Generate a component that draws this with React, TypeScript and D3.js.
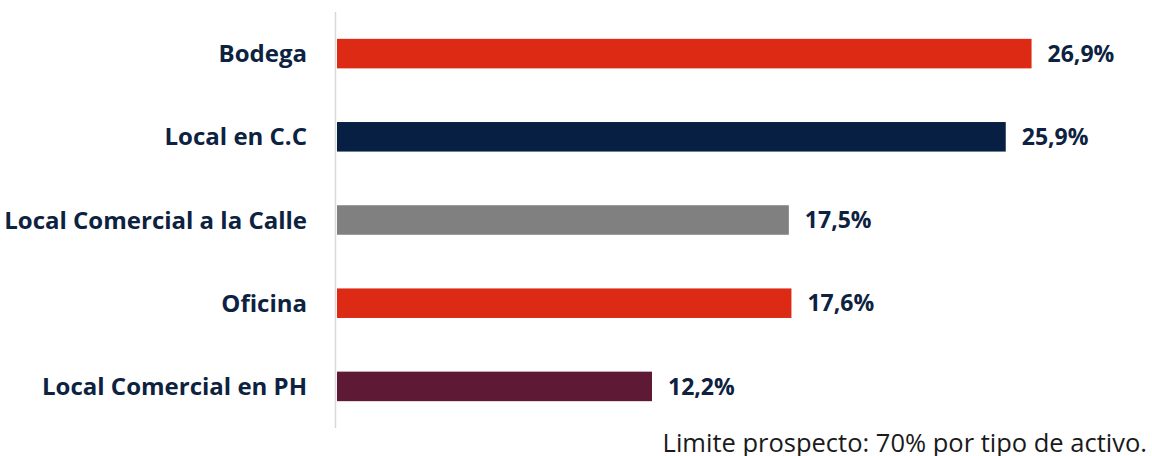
import React from "react";
import * as d3 from "d3";

const categories = ["Bodega", "Local en C.C", "Local Comercial a la Calle", "Oficina", "Local Comercial en PH"];
const values = [26.9, 25.9, 17.5, 17.6, 12.2];
const valueLabels = ["26,9%", "25,9%", "17,5%", "17,6%", "12,2%"];
const barColors = ["#DC2A14", "#061F42", "#808080", "#DC2A14", "#5E1A35"];
const footnote = "Limite prospecto: 70% por tipo de activo.";

const W = 1152;
const H = 456;
const FONT = "'Open Sans', sans-serif";
const TEXT = "#0D2240";

export default function App() {
  const x = d3.scaleLinear().domain([0, 30]).range([337, 337 + 30 * 25.82]);
  const y = d3.scaleBand<string>().domain(categories).range([12, 428]).paddingInner(0.645).paddingOuter(0.3225);
  const bw = y.bandwidth();
  return (
    <svg width={W} height={H} style={{ position: "absolute", left: 0, top: 0, background: "#fff" }}>
      <line x1={335.5} x2={335.5} y1={12} y2={428} stroke="#D9D9D9" strokeWidth={1.5} />
      {categories.map((c, i) => {
        const yc = (y(c) as number) + bw / 2;
        return (
          <g key={c}>
            <rect x={x(0)} y={y(c)} width={x(values[i]) - x(0)} height={bw} fill={barColors[i]} />
            <text x={307} y={yc} dy="0.36em" textAnchor="end" fontFamily={FONT} fontWeight={700} fontSize={24} fill={TEXT}>
              {c}
            </text>
            <text x={x(values[i]) + 16} y={yc} dy="0.36em" fontFamily={FONT} fontWeight={700} fontSize={23} fill={TEXT}>
              {valueLabels[i]}
            </text>
          </g>
        );
      })}
      <text x={1147} y={452} textAnchor="end" fontFamily={FONT} fontSize={25.5} fill="#1a1a1a">
        {footnote}
      </text>
    </svg>
  );
}
